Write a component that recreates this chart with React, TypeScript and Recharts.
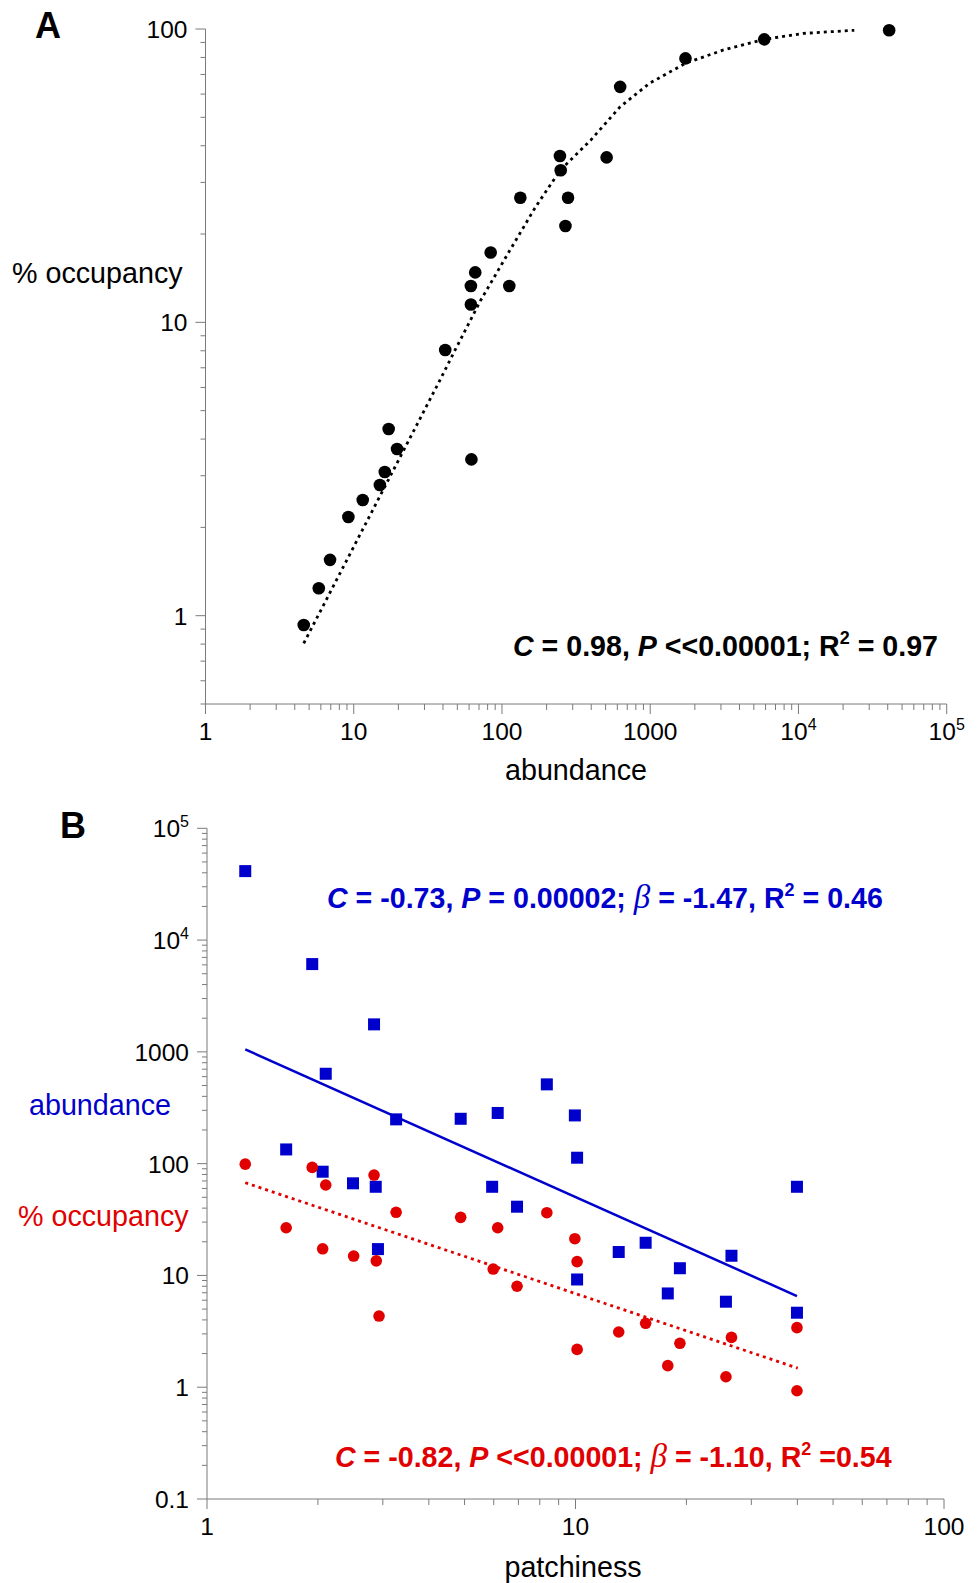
import React from "react";
import { ScatterChart, Scatter, XAxis, YAxis } from "recharts";

const FONT = "'Liberation Sans', Arial, Helvetica, sans-serif";
const SERIF = "'Liberation Serif', 'Times New Roman', serif";
const AXIS = "#7a7a7a";
const BLUE = "#0000cc";
const RED = "#e00000";

// panel A: abundance vs % occupancy
const abundanceA = [40900, 5880, 1729, 627, 246, 249, 508, 133, 279, 268, 83.9, 66.0, 61.7, 112, 61.7, 41.4, 17.2, 19.6, 16.2, 15.0, 11.5, 9.2, 6.92, 5.81, 4.6, 62.2];
const occupancyA = [99, 92.2, 79.4, 63.5, 36.9, 33.0, 36.5, 26.6, 26.6, 21.3, 17.3, 14.8, 13.3, 13.3, 11.5, 8.05, 4.33, 3.7, 3.09, 2.79, 2.48, 2.17, 1.55, 1.24, 0.93, 3.41];

// dotted fit curve
const curveAbund = [4.6, 38.2, 48.3, 71.9, 113, 169, 247, 397, 627, 989, 1729, 3090, 5880, 10800, 23800];
const curveOcc = [0.805, 6.36, 8.05, 11.9, 17.6, 24.8, 33.0, 41.8, 54.3, 65.3, 76.4, 84.7, 92.2, 96.6, 99];

// panel B: patchiness vs abundance (squares) and % occupancy (circles)
const patchAbund = [1.27, 1.93, 2.84, 2.1, 3.26, 4.88, 1.64, 2.06, 2.49, 2.87, 2.91, 6.15, 8.36, 9.96, 10.1, 5.94, 6.94, 10.1, 13.1, 15.5, 19.2, 17.8, 26.5, 25.6, 39.9, 39.9];
const abundanceB = [41400, 6100, 1762, 637, 249, 252, 134, 84.7, 66.7, 62.1, 17.2, 284, 512, 270, 113, 62.1, 41.2, 9.2, 16.2, 19.6, 11.6, 6.9, 15.0, 5.82, 62.1, 4.64];

const patchOcc = [1.27, 1.93, 2.1, 2.84, 1.64, 2.06, 2.5, 2.88, 2.93, 3.26, 4.88, 5.98, 6.15, 6.94, 8.36, 9.96, 10.1, 10.1, 13.1, 15.5, 19.2, 17.8, 26.5, 25.6, 39.9, 39.9];
const occupancyB = [99, 92.6, 64.4, 79.1, 26.7, 17.3, 14.9, 13.5, 4.33, 36.7, 33.1, 11.4, 26.7, 8.0, 36.4, 21.3, 13.3, 2.18, 3.12, 3.73, 2.47, 1.56, 2.79, 1.24, 3.41, 0.93];

const abundFitX = [1.27, 39.9];
const abundFitY = [1052, 6.54];
const occFitX = [1.27, 40.1];
const occFitY = [67.5, 1.48];

// axis labels
const aXMajor = [1, 10, 100, 1000, 10000, 100000];
const aXLabels = ["1", "10", "100", "1000", "10^4", "10^5"];
const aYMajor = [1, 10, 100];
const aYLabels = ["1", "10", "100"];
const bXMajor = [1, 10, 100];
const bXLabels = ["1", "10", "100"];
const bYMajor = [0.1, 1, 10, 100, 1000, 10000, 100000];
const bYLabels = ["0.1", "1", "10", "100", "1000", "10^4", "10^5"];

const zip = (xs: number[], ys: number[]) => xs.map((x, i) => ({ x, y: ys[i] }));

function logTicks(lo: number, hi: number) {
  const out: number[] = [];
  for (let e = Math.floor(Math.log10(lo)); e <= Math.ceil(Math.log10(hi)); e++) {
    for (let m = 1; m < 10; m++) {
      const v = m * Math.pow(10, e);
      if (v >= lo * 0.999 && v <= hi * 1.001) out.push(v);
    }
  }
  return out;
}

const findMajor = (majors: number[], v: number) =>
  majors.findIndex((m) => Math.abs(Math.log10(m) - Math.log10(v)) < 1e-6);

function TickLabel({ x, y, anchor, text }: { x: number; y: number; anchor: "start" | "middle" | "end"; text: string }) {
  const [base, exp] = text.split("^");
  return (
    <text x={x} y={y} textAnchor={anchor} fontFamily={FONT} fontSize={24.5} fill="#000">
      {base}
      {exp && (
        <tspan dy={-10} fontSize={16}>
          {exp}
        </tspan>
      )}
    </text>
  );
}

// y ticks: x arrives at the axis line (tickSize and tickMargin are 0)
function makeYTick(majors: number[], labels: string[]) {
  return (props: any) => {
    const { x, y, payload } = props;
    const i = findMajor(majors, payload.value);
    const len = i >= 0 ? 10 : 5;
    return (
      <g>
        <line x1={x} y1={y} x2={x - len} y2={y} stroke={AXIS} strokeWidth={1} />
        {i >= 0 && <TickLabel x={x - 18} y={y + 9} anchor="end" text={labels[i]} />}
      </g>
    );
  };
}

function makeXTick(majors: number[], labels: string[]) {
  return (props: any) => {
    const { x, y, payload } = props;
    const i = findMajor(majors, payload.value);
    const len = i >= 0 ? 10 : 6;
    return (
      <g>
        <line x1={x} y1={y} x2={x} y2={y + len} stroke={AXIS} strokeWidth={1} />
        {i >= 0 && <TickLabel x={x} y={y + 36} anchor="middle" text={labels[i]} />}
      </g>
    );
  };
}

const noShape = () => <g />;
const dot = (r: number, fill: string) => (p: any) => <circle cx={p.cx} cy={p.cy} r={r} fill={fill} />;
const square = (s: number, fill: string) => (p: any) => (
  <rect x={p.cx - s / 2} y={p.cy - s / 2} width={s} height={s} fill={fill} />
);

function PanelA() {
  return (
    <ScatterChart width={978} height={790} margin={{ top: 29, left: 204.5, right: 31.3, bottom: 85 }}>
      <XAxis
        type="number"
        dataKey="x"
        scale="log"
        domain={[1, 100000]}
        ticks={logTicks(1, 100000)}
        interval={0}
        height={1}
        tickSize={0}
        tickMargin={0}
        tickLine={false}
        axisLine={{ stroke: AXIS }}
        tick={makeXTick(aXMajor, aXLabels)}
      />
      <YAxis
        type="number"
        dataKey="y"
        scale="log"
        domain={[0.5, 100]}
        ticks={logTicks(0.5, 100)}
        interval={0}
        width={1}
        tickSize={0}
        tickMargin={0}
        tickLine={false}
        axisLine={{ stroke: AXIS }}
        tick={makeYTick(aYMajor, aYLabels)}
      />
      <Scatter
        data={zip(curveAbund, curveOcc)}
        line={{ stroke: "#000", strokeWidth: 2.8, strokeDasharray: "3 4" }}
        lineType="joint"
        shape={noShape}
        isAnimationActive={false}
      />
      <Scatter data={zip(abundanceA, occupancyA)} shape={dot(6.3, "#000")} isAnimationActive={false} />
    </ScatterChart>
  );
}

function PanelB() {
  return (
    <ScatterChart width={978} height={793} margin={{ top: 38.3, left: 206, right: 34, bottom: 83 }}>
      <XAxis
        type="number"
        dataKey="x"
        scale="log"
        domain={[1, 100]}
        ticks={logTicks(1, 100)}
        interval={0}
        height={1}
        tickSize={0}
        tickMargin={0}
        tickLine={false}
        axisLine={{ stroke: AXIS }}
        tick={makeXTick(bXMajor, bXLabels)}
      />
      <YAxis
        type="number"
        dataKey="y"
        scale="log"
        domain={[0.1, 100000]}
        ticks={logTicks(0.1, 100000)}
        interval={0}
        width={1}
        tickSize={0}
        tickMargin={0}
        tickLine={false}
        axisLine={{ stroke: AXIS }}
        tick={makeYTick(bYMajor, bYLabels)}
      />
      <Scatter
        data={zip(abundFitX, abundFitY)}
        line={{ stroke: BLUE, strokeWidth: 2.5 }}
        lineType="joint"
        shape={noShape}
        isAnimationActive={false}
      />
      <Scatter
        data={zip(occFitX, occFitY)}
        line={{ stroke: RED, strokeWidth: 2.8, strokeDasharray: "3 4" }}
        lineType="joint"
        shape={noShape}
        isAnimationActive={false}
      />
      <Scatter data={zip(patchAbund, abundanceB)} shape={square(12, BLUE)} isAnimationActive={false} />
      <Scatter data={zip(patchOcc, occupancyB)} shape={dot(5.8, RED)} isAnimationActive={false} />
    </ScatterChart>
  );
}

const it = { fontStyle: "italic" as const };
const beta = { fontFamily: SERIF, fontStyle: "italic" as const, fontWeight: "normal" as const, fontSize: 33 };

function Overlay() {
  return (
    <svg width={978} height={1583} style={{ position: "absolute", left: 0, top: 0, pointerEvents: "none" }}>
      <g fontFamily={FONT}>
        <text x={35} y={38} fontSize={36} fontWeight="bold">A</text>
        <text x={12} y={283} fontSize={28.7}>% occupancy</text>
        <text x={576} y={780} fontSize={28.7} textAnchor="middle">abundance</text>
        <text x={513} y={656} fontSize={28.6} fontWeight="bold">
          <tspan {...it}>C</tspan>
          {" = 0.98, "}
          <tspan {...it}>P</tspan>
          {" <<0.00001; R"}
          <tspan dy={-12} fontSize={18}>2</tspan>
          <tspan dy={12}>{" = 0.97"}</tspan>
        </text>

        <text x={60} y={838} fontSize={36} fontWeight="bold">B</text>
        <text x={29} y={1115} fontSize={28.7} fill={BLUE}>abundance</text>
        <text x={18} y={1226} fontSize={28.7} fill={RED}>% occupancy</text>
        <text x={573} y={1577} fontSize={28.7} textAnchor="middle">patchiness</text>
        <text x={327} y={908} fontSize={28.6} fontWeight="bold" fill={BLUE}>
          <tspan {...it}>C</tspan>
          {" = -0.73, "}
          <tspan {...it}>P</tspan>
          {" = 0.00002; "}
          <tspan {...beta}>β</tspan>
          {" = -1.47, R"}
          <tspan dy={-12} fontSize={18}>2</tspan>
          <tspan dy={12}>{" = 0.46"}</tspan>
        </text>
        <text x={335} y={1467} fontSize={28.6} fontWeight="bold" fill={RED}>
          <tspan {...it}>C</tspan>
          {" = -0.82, "}
          <tspan {...it}>P</tspan>
          {" <<0.00001; "}
          <tspan {...beta}>β</tspan>
          {" = -1.10, R"}
          <tspan dy={-12} fontSize={18}>2</tspan>
          <tspan dy={12}>{" =0.54"}</tspan>
        </text>
      </g>
    </svg>
  );
}

export default function App() {
  return (
    <div style={{ position: "absolute", left: 0, top: 0, width: 978, height: 1583, background: "#fff" }}>
      <div style={{ position: "absolute", left: 0, top: 0 }}>
        <PanelA />
      </div>
      <div style={{ position: "absolute", left: 0, top: 790 }}>
        <PanelB />
      </div>
      <Overlay />
    </div>
  );
}
